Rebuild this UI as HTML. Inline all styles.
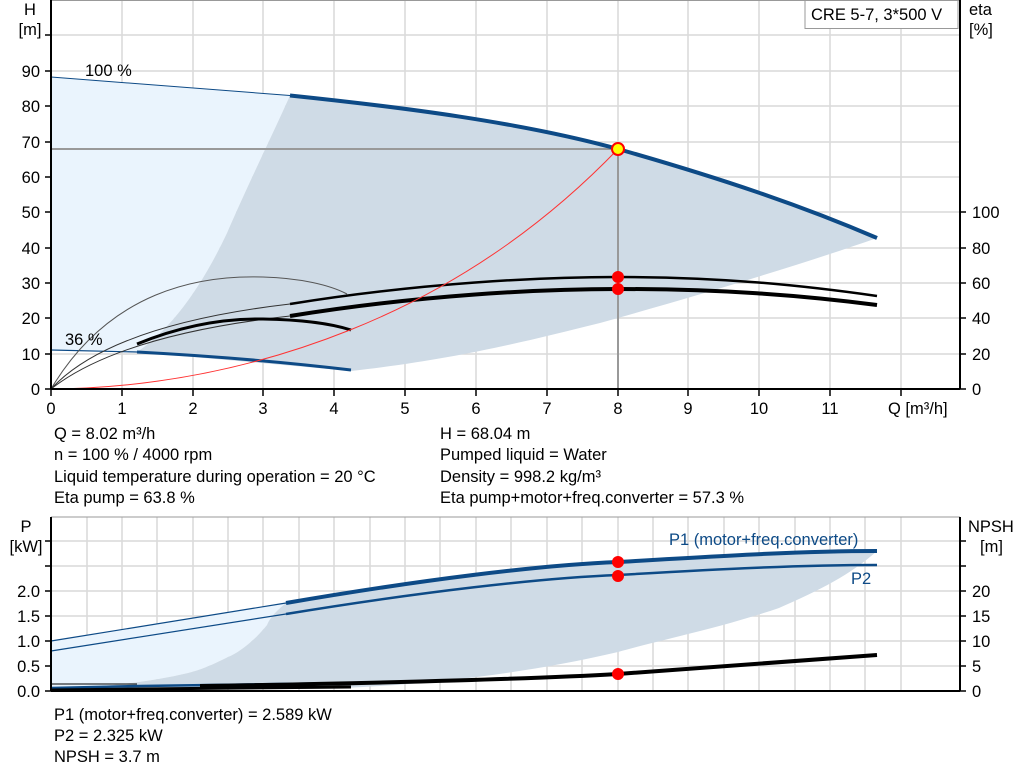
<!DOCTYPE html>
<html><head><meta charset="utf-8"><style>
body{margin:0;background:#fff;width:1024px;height:781px;overflow:hidden}
svg{display:block;font-family:"Liberation Sans",sans-serif;font-size:16.5px}
</style></head><body>
<svg width="1024" height="781" viewBox="0 0 1024 781">
<!-- TOP CHART -->
<g stroke="#d9d9d9" stroke-width="1.5">
<line x1="122" y1="0" x2="122" y2="389"/><line x1="193" y1="0" x2="193" y2="389"/><line x1="263" y1="0" x2="263" y2="389"/><line x1="334" y1="0" x2="334" y2="389"/><line x1="405" y1="0" x2="405" y2="389"/><line x1="476" y1="0" x2="476" y2="389"/><line x1="547" y1="0" x2="547" y2="389"/><line x1="618" y1="0" x2="618" y2="389"/><line x1="688" y1="0" x2="688" y2="389"/><line x1="759" y1="0" x2="759" y2="389"/><line x1="830" y1="0" x2="830" y2="389"/><line x1="901" y1="0" x2="901" y2="389"/>
<line x1="51" y1="354" x2="960" y2="354"/><line x1="51" y1="318" x2="960" y2="318"/><line x1="51" y1="283" x2="960" y2="283"/><line x1="51" y1="248" x2="960" y2="248"/><line x1="51" y1="212" x2="960" y2="212"/><line x1="51" y1="177" x2="960" y2="177"/><line x1="51" y1="142" x2="960" y2="142"/><line x1="51" y1="106" x2="960" y2="106"/><line x1="51" y1="71" x2="960" y2="71"/><line x1="51" y1="35" x2="960" y2="35"/>
</g>
<line x1="51" y1="0.5" x2="960" y2="0.5" stroke="#999" stroke-width="1"/>
<path d="M51,77 Q170,86 290,95.5 C270,140 250,180 227,233 C200,290 170,330 137,352 L51,350 Z" fill="#eaf4fd"/>
<path d="M290,95.5 C400,107 520,122 618,149 C720,178 800,205 877,238 C800,265 700,295 600,323 C520,343 450,360 351,371 L137,352 C170,330 200,290 227,233 C250,180 270,140 290,95.5 Z" fill="#cfdbe6"/>
<line x1="51" y1="149" x2="618" y2="149" stroke="#999" stroke-width="2"/>
<line x1="618" y1="149" x2="618" y2="389" stroke="#999" stroke-width="2"/>
<path d="M51,77 Q170,86 290,95.5" fill="none" stroke="#0d4a86" stroke-width="1"/>
<path d="M290,95.5 C400,107 520,122 618,149 C720,178 800,205 877,238" fill="none" stroke="#0d4a86" stroke-width="4"/>
<path d="M51,350 L137,352" fill="none" stroke="#0d4a86" stroke-width="1.2"/>
<path d="M137,352 Q250,358 351,370" fill="none" stroke="#0d4a86" stroke-width="3"/>
<path d="M51,389 C110,290 200,275 263,277 C300,278 330,285 347,294" fill="none" stroke="#555" stroke-width="1"/>
<path d="M51,389 Q110,325 290,304" fill="none" stroke="#333" stroke-width="1"/>
<path d="M51,389 Q120,335 290,316" fill="none" stroke="#333" stroke-width="1"/>
<path d="M290,304 C420,283 540,277 618,277 C720,277 800,285 877,296" fill="none" stroke="#000" stroke-width="2.5"/>
<path d="M290,316 C420,295 540,289 618,289 C720,289 800,295 877,305" fill="none" stroke="#000" stroke-width="4"/>
<path d="M137,344 Q200,318 263,319 Q320,320 351,330" fill="none" stroke="#000" stroke-width="3"/>
<path d="M51,389 C150,388 250,370 350,330 C450,290 540,230 618,149" fill="none" stroke="#f33" stroke-width="1"/>
<circle cx="618" cy="277" r="6" fill="#f00"/><circle cx="618" cy="289" r="6" fill="#f00"/>
<circle cx="618" cy="149" r="6" fill="#ff0" stroke="#f00" stroke-width="2"/>
<g stroke="#000" stroke-width="2">
<line x1="51" y1="0" x2="51" y2="389"/><line x1="51" y1="389" x2="960" y2="389"/><line x1="960" y1="0" x2="960" y2="389"/>
</g>
<g stroke="#000" stroke-width="1.5">
<line x1="45" y1="389" x2="51" y2="389"/><line x1="45" y1="354" x2="51" y2="354"/><line x1="45" y1="318" x2="51" y2="318"/><line x1="45" y1="283" x2="51" y2="283"/><line x1="45" y1="248" x2="51" y2="248"/><line x1="45" y1="212" x2="51" y2="212"/><line x1="45" y1="177" x2="51" y2="177"/><line x1="45" y1="142" x2="51" y2="142"/><line x1="45" y1="106" x2="51" y2="106"/><line x1="45" y1="71" x2="51" y2="71"/><line x1="45" y1="35" x2="51" y2="35"/>
<line x1="960" y1="389" x2="966" y2="389"/><line x1="960" y1="354" x2="966" y2="354"/><line x1="960" y1="318" x2="966" y2="318"/><line x1="960" y1="283" x2="966" y2="283"/><line x1="960" y1="248" x2="966" y2="248"/><line x1="960" y1="212" x2="966" y2="212"/>
<line x1="51" y1="389" x2="51" y2="396"/><line x1="122" y1="389" x2="122" y2="396"/><line x1="193" y1="389" x2="193" y2="396"/><line x1="263" y1="389" x2="263" y2="396"/><line x1="334" y1="389" x2="334" y2="396"/><line x1="405" y1="389" x2="405" y2="396"/><line x1="476" y1="389" x2="476" y2="396"/><line x1="547" y1="389" x2="547" y2="396"/><line x1="618" y1="389" x2="618" y2="396"/><line x1="688" y1="389" x2="688" y2="396"/><line x1="759" y1="389" x2="759" y2="396"/><line x1="830" y1="389" x2="830" y2="396"/><line x1="901" y1="389" x2="901" y2="396"/>
</g>
<g text-anchor="end">
<text x="40" y="395">0</text><text x="40" y="360">10</text><text x="40" y="324">20</text><text x="40" y="289">30</text><text x="40" y="254">40</text><text x="40" y="218">50</text><text x="40" y="183">60</text><text x="40" y="148">70</text><text x="40" y="112">80</text><text x="40" y="77">90</text>
</g>
<text x="30" y="15" text-anchor="middle">H</text><text x="30" y="35" text-anchor="middle">[m]</text>
<text x="969" y="15">eta</text><text x="969" y="35">[%]</text>
<g><text x="972" y="395">0</text><text x="972" y="360">20</text><text x="972" y="324">40</text><text x="972" y="289">60</text><text x="972" y="254">80</text><text x="972" y="218">100</text></g>
<g text-anchor="middle">
<text x="51" y="414">0</text><text x="122" y="414">1</text><text x="193" y="414">2</text><text x="263" y="414">3</text><text x="334" y="414">4</text><text x="405" y="414">5</text><text x="476" y="414">6</text><text x="547" y="414">7</text><text x="618" y="414">8</text><text x="688" y="414">9</text><text x="759" y="414">10</text><text x="830" y="414">11</text>
</g>
<text x="888" y="414">Q [m³/h]</text>
<text x="85" y="76">100 %</text><text x="65" y="345">36 %</text>
<rect x="805" y="0.5" width="153" height="28" fill="#fff" stroke="#999"/>
<text x="811" y="20">CRE 5-7, 3*500 V</text>
<g>
<text x="54" y="439">Q = 8.02 m³/h</text><text x="54" y="460">n = 100 % / 4000 rpm</text><text x="54" y="482">Liquid temperature during operation = 20 °C</text><text x="54" y="503">Eta pump = 63.8 %</text>
<text x="440" y="439">H = 68.04 m</text><text x="440" y="460">Pumped liquid = Water</text><text x="440" y="482">Density = 998.2 kg/m³</text><text x="440" y="503">Eta pump+motor+freq.converter = 57.3 %</text>
</g>
<!-- BOTTOM CHART -->
<g stroke="#d9d9d9" stroke-width="1.5">
<line x1="87" y1="517" x2="87" y2="691"/><line x1="122" y1="517" x2="122" y2="691"/><line x1="157" y1="517" x2="157" y2="691"/><line x1="193" y1="517" x2="193" y2="691"/><line x1="228" y1="517" x2="228" y2="691"/><line x1="263" y1="517" x2="263" y2="691"/><line x1="299" y1="517" x2="299" y2="691"/><line x1="334" y1="517" x2="334" y2="691"/><line x1="370" y1="517" x2="370" y2="691"/><line x1="405" y1="517" x2="405" y2="691"/><line x1="440" y1="517" x2="440" y2="691"/><line x1="476" y1="517" x2="476" y2="691"/><line x1="511" y1="517" x2="511" y2="691"/><line x1="547" y1="517" x2="547" y2="691"/><line x1="582" y1="517" x2="582" y2="691"/><line x1="618" y1="517" x2="618" y2="691"/><line x1="653" y1="517" x2="653" y2="691"/><line x1="688" y1="517" x2="688" y2="691"/><line x1="724" y1="517" x2="724" y2="691"/><line x1="759" y1="517" x2="759" y2="691"/><line x1="795" y1="517" x2="795" y2="691"/><line x1="830" y1="517" x2="830" y2="691"/><line x1="865" y1="517" x2="865" y2="691"/><line x1="901" y1="517" x2="901" y2="691"/>
<line x1="51" y1="666" x2="960" y2="666"/><line x1="51" y1="641" x2="960" y2="641"/><line x1="51" y1="616" x2="960" y2="616"/><line x1="51" y1="591" x2="960" y2="591"/><line x1="51" y1="566" x2="960" y2="566"/><line x1="51" y1="541" x2="960" y2="541"/>
</g>
<line x1="51" y1="517" x2="960" y2="517" stroke="#999" stroke-width="1"/>
<path d="M51,641 L286,603 C275,612 270,618 267,625 C255,640 240,652 228,657 C210,666 200,670 188,673 C150,682 110,686 51,689 Z" fill="#eaf4fd"/>
<path d="M286,603 C420,580 540,565 618,562 C720,556 800,551 877,551 C850,575 820,590 779,608 C720,628 660,640 618,652 C520,675 420,685 340,688 L60,689 C110,686 150,682 188,673 C200,670 210,666 228,657 C240,652 255,640 267,625 C270,618 275,612 286,603 Z" fill="#cfdbe6"/>
<path d="M51,641 L286,603" stroke="#0d4a86" stroke-width="1.2" fill="none"/>
<path d="M51,651 L286,614" stroke="#0d4a86" stroke-width="1.2" fill="none"/>
<path d="M286,603 C420,580 540,565 618,562 C720,556 800,551 877,551" stroke="#0d4a86" stroke-width="4" fill="none"/>
<path d="M286,614 C420,592 540,578 618,575 C720,569 800,565 877,565" stroke="#0d4a86" stroke-width="2.5" fill="none"/>
<path d="M51,684 L137,684" stroke="#000" stroke-width="1" fill="none"/>
<path d="M51,688 L140,686 L351,683" stroke="#0d4a86" stroke-width="2.5" fill="none"/>
<path d="M51,690 L140,689 L351,687" stroke="#000" stroke-width="3" fill="none"/>
<path d="M200,686 C400,683 550,678 618,674 C720,667 800,660 877,655" stroke="#000" stroke-width="4" fill="none"/>
<circle cx="618" cy="562" r="6" fill="#f00"/><circle cx="618" cy="576" r="6" fill="#f00"/><circle cx="618" cy="674" r="6" fill="#f00"/>
<g stroke="#000" stroke-width="2">
<line x1="51" y1="517" x2="51" y2="691"/><line x1="51" y1="691" x2="960" y2="691"/><line x1="960" y1="517" x2="960" y2="691"/>
</g>
<g stroke="#000" stroke-width="1.5">
<line x1="45" y1="691" x2="51" y2="691"/><line x1="45" y1="666" x2="51" y2="666"/><line x1="45" y1="641" x2="51" y2="641"/><line x1="45" y1="616" x2="51" y2="616"/><line x1="45" y1="591" x2="51" y2="591"/><line x1="45" y1="566" x2="51" y2="566"/><line x1="45" y1="541" x2="51" y2="541"/>
<line x1="960" y1="691" x2="966" y2="691"/><line x1="960" y1="666" x2="966" y2="666"/><line x1="960" y1="641" x2="966" y2="641"/><line x1="960" y1="616" x2="966" y2="616"/><line x1="960" y1="591" x2="966" y2="591"/><line x1="960" y1="566" x2="966" y2="566"/><line x1="960" y1="541" x2="966" y2="541"/>
</g>
<g text-anchor="end">
<text x="40" y="697">0.0</text><text x="40" y="672">0.5</text><text x="40" y="647">1.0</text><text x="40" y="622">1.5</text><text x="40" y="597">2.0</text>
</g>
<text x="26" y="532" text-anchor="middle">P</text><text x="26" y="552" text-anchor="middle">[kW]</text>
<text x="968" y="532">NPSH</text><text x="980" y="552">[m]</text>
<g><text x="972" y="697">0</text><text x="972" y="672">5</text><text x="972" y="647">10</text><text x="972" y="622">15</text><text x="972" y="597">20</text></g>
<text x="669" y="545" fill="#0d4a86">P1 (motor+freq.converter)</text>
<text x="851" y="584" fill="#0d4a86">P2</text>
<text x="54" y="720">P1 (motor+freq.converter) = 2.589 kW</text>
<text x="54" y="741">P2 = 2.325 kW</text>
<text x="54" y="762">NPSH = 3.7 m</text>
</svg>
</body></html>
